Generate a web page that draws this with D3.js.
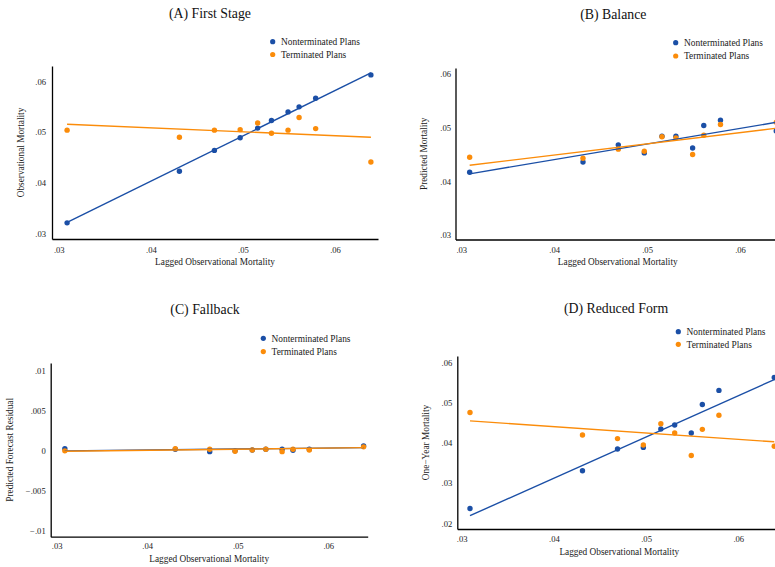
<!DOCTYPE html>
<html><head><meta charset="utf-8">
<script src="https://cdn.jsdelivr.net/npm/d3@7/dist/d3.min.js"></script>
<style>
html,body{margin:0;padding:0;background:#fff;}
svg{display:block;font-family:"Liberation Serif","Times New Roman",serif;}
</style></head>
<body>
<svg id="chart" width="775" height="567"></svg>
<script>
// ---------- DATA ----------
const seriesNames = ["Nonterminated Plans", "Terminated Plans"];
const xBins = [0.0309, 0.0431, 0.0469, 0.0497, 0.0516, 0.0531, 0.0549, 0.0561, 0.0579, 0.0639];
const fitX = [0.0309, 0.0639];
const xTicks = [0.03, 0.04, 0.05, 0.06];
const xTickLabels = [".03", ".04", ".05", ".06"];

const titles = ["(A) First Stage", "(B) Balance", "(C) Fallback", "(D) Reduced Form"];
const xTitle = "Lagged Observational Mortality";
const yTitles = ["Observational Mortality", "Predicted Mortality", "Predicted Forecast Residual", "One\u2212Year Mortality"];

const yTicksA = [0.03, 0.04, 0.05, 0.06];
const yTickLabelsA = [".03", ".04", ".05", ".06"];
const yTicksC = [-0.01, -0.005, 0, 0.005, 0.01];
const yTickLabelsC = ["\u2212.01", "\u2212.005", "0", ".005", ".01"];
const yTicksD = [0.02, 0.03, 0.04, 0.05, 0.06];
const yTickLabelsD = [".02", ".03", ".04", ".05", ".06"];

const aNon  = [0.0321, 0.0423, 0.0464, 0.0489, 0.0508, 0.0523, 0.0540, 0.0550, 0.0567, 0.0613];
const aTerm = [0.0504, 0.0490, 0.0504, 0.0505, 0.0518, 0.0498, 0.0504, 0.0529, 0.0507, 0.0441];
const aFitNon  = [0.0322, 0.0617];
const aFitTerm = [0.05155, 0.0490];

const bNon  = [0.0417, 0.0436, 0.0468, 0.0453, 0.0484, 0.0484, 0.0462, 0.0504, 0.0514, 0.0494];
const bTerm = [0.0445, 0.0443, 0.0460, 0.0456, 0.0483, 0.0481, 0.0450, 0.0486, 0.0506, 0.0510];
const bFitNon  = [0.0414, 0.0510];
const bFitTerm = [0.0430, 0.0499];

const cNon  = [0.00027, 0.0002, -0.0001, 0.0, 0.0001, 0.0002, 0.0002, 0.00007, 0.0002, 0.0006];
const cTerm = [0.0, 0.00027, 0.0002, -0.00006, 0.0001, 0.0002, -0.0001, 0.0002, 0.0001, 0.0005];
const cFitNon  = [0.0, 0.0004];
const cFitTerm = [-0.00005, 0.0004];

const dNon  = [0.0237, 0.0331, 0.0385, 0.0389, 0.0435, 0.0445, 0.0425, 0.0496, 0.0531, 0.0563];
const dTerm = [0.0476, 0.0420, 0.0411, 0.0395, 0.0448, 0.0425, 0.0369, 0.0434, 0.0469, 0.0392];
const dFitNon  = [0.0219, 0.0558];
const dFitTerm = [0.0455, 0.0403];

// ---------- STYLE / LAYOUT ----------
const colors = ["#1b4fa6", "#fb8c0a"];
const panels = [
  {title: titles[0], yTitle: yTitles[0], yTicks: yTicksA, yLabels: yTickLabelsA, non: aNon, term: aTerm, fitNon: aFitNon, fitTerm: aFitTerm,
   left: 52, right: 378, top: 66, bottom: 239, xA: [58.8, 335], yA: [233.5, 81.5], yDom: [0.03, 0.06],
   titleX: 210, titleY: 17.5, legX: 272.7, legY: 41.7, legDy: 12.8, xLabY: 252.5, xTitleY: 264.5, yTitleX: 24, yLabGap: 6},
  {title: titles[1], yTitle: yTitles[1], yTicks: yTicksA, yLabels: yTickLabelsA, non: bNon, term: bTerm, fitNon: bFitNon, fitTerm: bFitTerm,
   left: 455.5, right: 780, top: 68, bottom: 239.5, xA: [461.3, 740], yA: [235, 74], yDom: [0.03, 0.06],
   titleX: 613.3, titleY: 19, legX: 675.7, legY: 42.7, legDy: 13.3, xLabY: 252.7, xTitleY: 264.5, yTitleX: 426.5, yLabGap: 4.5},
  {title: titles[2], yTitle: yTitles[2], yTicks: yTicksC, yLabels: yTickLabelsC, non: cNon, term: cTerm, fitNon: cFitNon, fitTerm: cFitTerm,
   left: 50.7, right: 367.7, top: 363, bottom: 536.7, xA: [56.7, 328.3], yA: [530.7, 371], yDom: [-0.01, 0.01],
   titleX: 205, titleY: 314, legX: 263.3, legY: 338.3, legDy: 13.3, xLabY: 549.3, xTitleY: 561.7, yTitleX: 13.2, yLabGap: 5},
  {title: titles[3], yTitle: yTitles[3], yTicks: yTicksD, yLabels: yTickLabelsD, non: dNon, term: dTerm, fitNon: dFitNon, fitTerm: dFitTerm,
   left: 457.3, right: 781.3, top: 356, bottom: 529, xA: [461.7, 738.3], yA: [523.3, 362.7], yDom: [0.02, 0.06],
   titleX: 616, titleY: 312.7, legX: 678.3, legY: 331.7, legDy: 12.6, xLabY: 541.7, xTitleY: 555, yTitleX: 429, yLabGap: 5}
];

const svg = d3.select("#chart");

function extendScale(dom, rng, p0, p1) {
  const s = d3.scaleLinear().domain(dom).range(rng);
  const d0 = s.invert(p0), d1 = s.invert(p1);
  return d3.scaleLinear().domain([d0, d1]).range([p0, p1]);
}

panels.forEach(p => {
  const g = svg.append("g");
  const x = extendScale([0.03, 0.06], p.xA, p.left, p.right);
  const y = extendScale(p.yDom, p.yA, p.bottom, p.top);

  // title
  g.append("text").attr("x", p.titleX).attr("y", p.titleY).attr("text-anchor", "middle")
    .attr("font-size", 13.8).attr("fill", "#111").text(p.title);

  // legend
  seriesNames.forEach((n, i) => {
    g.append("circle").attr("cx", p.legX).attr("cy", p.legY + i * p.legDy).attr("r", 2.6).attr("fill", colors[i]);
    g.append("text").attr("x", p.legX + 8.3).attr("y", p.legY + i * p.legDy + 3.3)
      .attr("font-size", 9.4).attr("fill", "#222").text(n);
  });

  // axes
  const xAxis = d3.axisBottom(x).tickValues(xTicks).tickSize(0).tickSizeOuter(0)
    .tickFormat((d, i) => xTickLabels[i]);
  const gx = g.append("g").attr("transform", `translate(0,${p.bottom})`).call(xAxis);
  gx.select(".domain").attr("stroke", "#000").attr("stroke-width", 1.3);
  gx.selectAll(".tick text").attr("font-family", "Liberation Serif").attr("font-size", 8.6)
    .attr("fill", "#222").attr("dy", null).attr("y", p.xLabY - p.bottom);

  const yAxis = d3.axisLeft(y).tickValues(p.yTicks).tickSize(0).tickSizeOuter(0)
    .tickFormat((d, i) => p.yLabels[i]);
  const gy = g.append("g").attr("transform", `translate(${p.left},0)`).call(yAxis);
  gy.select(".domain").attr("stroke", "#000").attr("stroke-width", 1.3);
  gy.selectAll(".tick text").attr("font-family", "Liberation Serif").attr("font-size", 8.6)
    .attr("fill", "#222").attr("x", -p.yLabGap).attr("dy", "0.32em");

  // axis titles
  g.append("text").attr("x", (p.left + p.right) / 2).attr("y", p.xTitleY).attr("text-anchor", "middle")
    .attr("font-size", 9.3).attr("fill", "#222").text(xTitle);
  g.append("text").attr("transform", `translate(${p.yTitleX},${(p.top + p.bottom) / 2}) rotate(-90)`)
    .attr("text-anchor", "middle").attr("font-size", 9.3).attr("fill", "#222").text(p.yTitle);

  // scatter
  [p.non, p.term].forEach((vals, si) => {
    g.append("g").selectAll("circle").data(vals).join("circle")
      .attr("cx", (d, i) => x(xBins[i])).attr("cy", d => y(d)).attr("r", 2.7).attr("fill", colors[si]);
  });

  // fit lines
  const line = d3.line().x((d, i) => x(fitX[i])).y(d => y(d));
  [p.fitNon, p.fitTerm].forEach((vals, si) => {
    g.append("path").datum(vals).attr("d", line).attr("fill", "none")
      .attr("stroke", colors[si]).attr("stroke-width", 1.4);
  });
});
</script>
</body></html>
